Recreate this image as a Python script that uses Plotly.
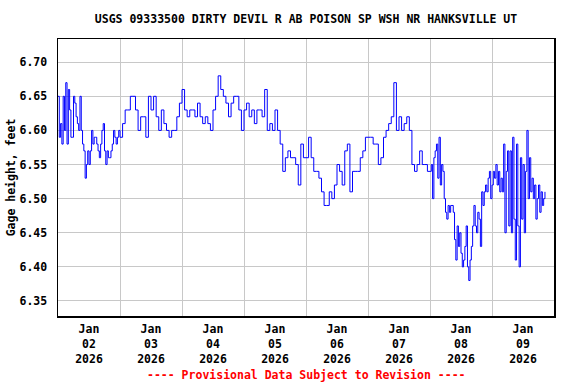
import pandas as pd
import plotly.graph_objects as go

TITLE = "USGS 09333500 DIRTY DEVIL R AB POISON SP WSH NR HANKSVILLE UT"
Y_LABEL = "Gage height, feet"
FOOTNOTE = "---- Provisional Data Subject to Revision ----"

# Gage height (feet), one list per day; sampling interval (minutes) per day
day_starts = ["2026-01-02", "2026-01-03", "2026-01-04", "2026-01-05",
              "2026-01-06", "2026-01-07", "2026-01-08", "2026-01-09"]
interval_minutes = [30, 60, 60, 60, 60, 60, 30, 30]

jan02 = [6.65, 6.59, 6.61, 6.58, 6.65, 6.60, 6.67, 6.58, 6.66, 6.63, 6.59, 6.59,
         6.65, 6.64, 6.62, 6.61, 6.60, 6.65, 6.60, 6.58, 6.57, 6.53, 6.55, 6.57,
         6.55, 6.57, 6.60, 6.58, 6.59, 6.59, 6.58, 6.57, 6.56, 6.58, 6.60, 6.61,
         6.57, 6.55, 6.57, 6.56, 6.56, 6.57, 6.58, 6.60, 6.59, 6.58, 6.59, 6.60]
jan03 = [6.59, 6.61, 6.63, 6.63, 6.65, 6.65, 6.63, 6.60, 6.62, 6.62, 6.59, 6.65,
         6.63, 6.65, 6.62, 6.60, 6.63, 6.61, 6.60, 6.59, 6.60, 6.60, 6.62, 6.64]
jan04 = [6.66, 6.63, 6.62, 6.63, 6.63, 6.62, 6.64, 6.62, 6.61, 6.62, 6.61, 6.60,
         6.63, 6.65, 6.68, 6.66, 6.65, 6.64, 6.62, 6.64, 6.65, 6.65, 6.63, 6.60]
jan05 = [6.63, 6.64, 6.62, 6.63, 6.61, 6.63, 6.63, 6.62, 6.66, 6.60, 6.61, 6.60,
         6.63, 6.60, 6.58, 6.54, 6.56, 6.57, 6.56, 6.56, 6.55, 6.52, 6.58, 6.56]
jan06 = [6.56, 6.59, 6.56, 6.54, 6.54, 6.53, 6.51, 6.49, 6.49, 6.51, 6.50, 6.52,
         6.55, 6.54, 6.52, 6.57, 6.58, 6.51, 6.54, 6.54, 6.54, 6.56, 6.57, 6.59]
jan07 = [6.59, 6.59, 6.58, 6.58, 6.55, 6.56, 6.59, 6.60, 6.61, 6.62, 6.67, 6.60,
         6.62, 6.60, 6.61, 6.62, 6.60, 6.55, 6.54, 6.55, 6.57, 6.55, 6.55, 6.54]
jan08 = [6.54, 6.55, 6.50, 6.56, 6.57, 6.58, 6.53, 6.59, 6.52, 6.55, 6.54, 6.50,
         6.48, 6.47, 6.49, 6.48, 6.49, 6.49, 6.48, 6.44, 6.41, 6.46, 6.43, 6.45,
         6.42, 6.40, 6.41, 6.43, 6.46, 6.40, 6.38, 6.41, 6.43, 6.46, 6.49, 6.46,
         6.45, 6.48, 6.47, 6.43, 6.51, 6.49, 6.51, 6.52, 6.51, 6.53, 6.54, 6.50]
jan09 = [6.52, 6.54, 6.53, 6.55, 6.52, 6.54, 6.51, 6.53, 6.51, 6.58, 6.45, 6.54,
         6.57, 6.46, 6.57, 6.45, 6.59, 6.47, 6.41, 6.58, 6.46, 6.40, 6.56, 6.47,
         6.55, 6.45, 6.54, 6.60, 6.50, 6.56, 6.51, 6.53, 6.50, 6.52, 6.47, 6.50,
         6.52, 6.48, 6.51, 6.49, 6.50, 6.51]
day_values = [jan02, jan03, jan04, jan05, jan06, jan07, jan08, jan09]

y_ticks = [6.35, 6.40, 6.45, 6.50, 6.55, 6.60, 6.65, 6.70]
x_range = ["2026-01-02 00:00", "2026-01-10 00:00"]
y_range = [6.328, 6.734]

times, heights = [], []
for start, vals, step in zip(day_starts, day_values, interval_minutes):
    t = pd.date_range(start, periods=len(vals), freq=f"{step}min")
    times.extend(t)
    heights.extend(vals)

FONT = "DejaVu Sans Mono"
BOLD = dict(family=FONT, size=11.5, color="black", weight="bold")

fig = go.Figure(go.Scatter(x=times, y=heights, mode="lines",
                           line=dict(color="#0000FF", width=1, shape="hv"),
                           hoverinfo="skip"))

axis_common = dict(showgrid=True, gridcolor="#c8c8c8", gridwidth=1,
                   showline=True, linecolor="black", linewidth=1.5, mirror=True,
                   ticks="", zeroline=False, automargin=False, tickfont=BOLD)

fig.update_layout(
    width=576, height=384,
    margin=dict(l=58, r=22, t=39, b=68),
    paper_bgcolor="white", plot_bgcolor="white",
    showlegend=False,
    font=BOLD,
    title=dict(text=TITLE, x=0.5, xref="paper", xanchor="center",
               y=1 - 19 / 384, yref="container", yanchor="middle", font=BOLD),
    xaxis=dict(type="date", range=x_range, tickmode="linear",
               tick0="2026-01-02", dtick=86400000, ticklabelmode="period",
               tickformat="%b<br>%d<br>%Y", ticklabelstandoff=2, **axis_common),
    yaxis=dict(range=y_range, tickmode="array", tickvals=y_ticks,
               tickformat=".2f", ticklabelstandoff=7,
               title=dict(text=Y_LABEL, standoff=1, font=BOLD), **axis_common),
    annotations=[dict(text=FOOTNOTE, xref="paper", yref="paper", x=0.5,
                      y=-(375 - 316) / 277, xanchor="center", yanchor="middle",
                      showarrow=False,
                      font=dict(family=FONT, size=11.5, color="#FF0000",
                                weight="bold"))],
)

fig.write_html("out.html",
               config={"displayModeBar": False, "staticPlot": True},
               post_script="document.body.style.margin='0';"
                           "document.body.style.overflow='hidden';")
